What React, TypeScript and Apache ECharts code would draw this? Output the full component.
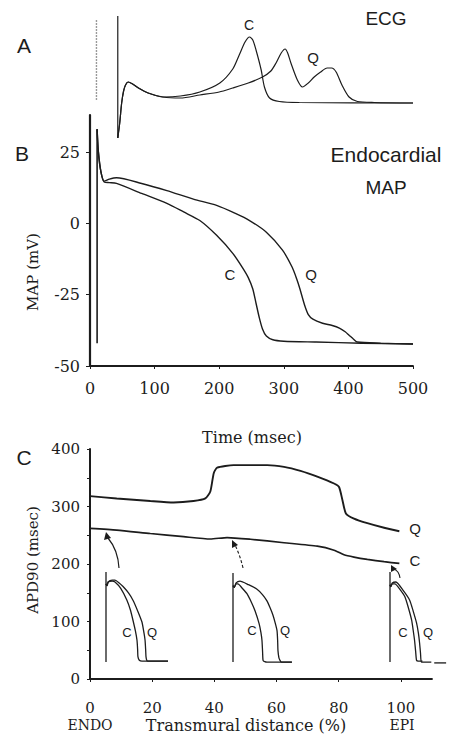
import React, { useEffect, useRef } from "react";
import * as echarts from "echarts";

// ---------- Panel A: ECG (time ms, amplitude arbitrary units) ----------
const ecgStimulus = [[10, 3], [10, 83]];
const ecgQrs = [[43, 87], [43, -35]];
const ecgControl = [
  [43, -35], [46, -20], [49, 0], [52, 12], [55, 18], [59, 21], [66, 19], [75, 15],
  [90, 10], [113, 6], [140, 7], [170, 11], [201, 20], [221, 34], [231, 48], [240, 61], [247, 66],
  [252, 63], [257, 53], [265, 33], [270, 16], [278, 5], [293, 1.5], [324, 0.5], [500, 0],
];
const ecgQuinidine = [
  [43, -35], [46, -20], [49, 0], [52, 12], [55, 18], [59, 21], [66, 19], [75, 15],
  [90, 10], [113, 6], [140, 5], [170, 8], [200, 11], [221, 15], [245, 20], [267, 26], [280, 32],
  [288, 40], [296, 50], [302, 54], [306, 50], [311, 40], [321, 23], [329, 16], [338, 20], [347, 26],
  [357, 31], [367, 35], [374, 35], [381, 31], [390, 18], [401, 6], [414, 1.5], [440, 0.5], [500, 0],
];

// ---------- Panel B: Endocardial MAP (time ms, mV) ----------
const timeTicks = [0, 100, 200, 300, 400, 500];
const mapTicks = [-50, -25, 0, 25];
const mapUpstroke = [[11, -42], [11, 33]];
const mapControl = [
  [11, 33], [13, 25], [17, 18], [22, 14.5], [30, 14.3], [41, 14], [80, 10.5], [119, 7],
  [145, 4], [170, 1], [196, -4.2], [221, -10.5], [236, -15.5], [245, -19], [252, -23], [257, -28],
  [262, -33], [267, -37], [273, -39.5], [283, -40.8], [300, -41.3], [350, -41.6], [420, -42],
  [500, -42.3],
];
const mapQuinidine = [
  [11, 33], [13, 25], [17, 18], [22, 14.8], [30, 15.5], [41, 16], [80, 14], [119, 11.5],
  [160, 8.5], [196, 6.3], [225, 3.5], [247, 1], [273, -3.1], [298, -9.4], [313, -15.4],
  [320, -19.5], [325, -23], [332, -28.5], [338, -32], [345, -33.6], [360, -35], [375, -35.8],
  [386, -36.7], [395, -38], [401, -39.2], [408, -40.6], [414, -41.6], [450, -42], [500, -42.3],
];

// ---------- Panel C: APD90 across wall (% distance, ms) ----------
const distTicks = [0, 20, 40, 60, 80, 100];
const apdTicks = [0, 100, 200, 300, 400];
const apdQuinidine = [
  [0, 318], [8.6, 314], [19.4, 309.5], [26.9, 307], [33.3, 309.5], [37.1, 314], [38.7, 326],
  [39.8, 358], [40.9, 367.5], [46.2, 372], [57, 372], [62.4, 369], [67.7, 362], [73.1, 352],
  [78.5, 340], [80.1, 334], [81.2, 311], [82.3, 288], [84.9, 279], [89.2, 271], [94.6, 263],
  [99.5, 257],
];
const apdControl = [
  [0, 262], [8.6, 259], [19.4, 253], [30.1, 247.5], [38.7, 243.5], [44.1, 246], [51.6, 243],
  [62.4, 237], [73.1, 231], [78.5, 224], [81.7, 216], [84.9, 212], [89.2, 208], [94.6, 204],
  [99.5, 201],
];

// ---------- Panel C insets: MAP shapes (ms, % amplitude) ----------
const insetUpstroke = [[0, 1], [0, 100]];
const endoControl = [
  [0, 87], [7, 85], [14, 89], [40, 90], [58, 89], [95, 82], [135, 69],
  [158, 58], [174, 47], [190, 35], [200, 25], [204, 15], [206, 7], [215, 3], [232, 2], [400, 2],
];
const endoQuinidine = [
  [0, 87], [7, 85], [14, 89], [40, 91], [58, 91], [85, 88], [110, 84],
  [145, 77], [174, 69], [205, 57], [232, 45], [245, 33], [252, 25], [256, 14], [258, 7],
  [263, 3], [271, 2], [400, 2],
];
const midControl = [
  [0, 86], [8, 84], [20, 88], [32, 88], [60, 83], [90, 77], [120, 67],
  [142, 58], [168, 44], [180, 34], [187, 25], [191, 12], [194, 3], [205, 1.5], [219, 1], [380, 1],
];
const midQuinidine = [
  [0, 86], [8, 84], [20, 89], [45, 91], [100, 87], [155, 82], [190, 76],
  [219, 69], [240, 61], [258, 53], [273, 44], [284, 36], [288, 25], [290, 14], [296, 6],
  [303, 3], [312, 1], [380, 1],
];
const epiControl = [
  [0, 86], [5, 84], [15, 87], [32, 87], [65, 81], [97, 73], [120, 61],
  [142, 47], [152, 36], [161, 25], [168, 13], [174, 3], [185, 2], [213, 2],
];
const epiQuinidine = [
  [0, 86], [5, 84], [15, 88], [39, 89], [85, 80], [129, 69], [152, 57],
  [174, 44], [186, 33], [194, 22], [200, 11], [206, 1], [230, 1], [271, 1], [280, null],
  [290, 0], [368, 0],
];

const INK = "#1c1c1c";
const SERIF = "DejaVu Serif";
const SANS = "Liberation Sans";

function txt(text: string, x: number, y: number, size: number, family = SANS, extra: any = {}) {
  return {
    type: "text",
    x,
    y,
    ...extra,
    style: {
      text,
      fill: INK,
      font: `${size}px "${family}"`,
      align: "center",
      verticalAlign: "middle",
    },
  };
}

function line(data: any[], xi: number, width: number, smooth = 0, extra: any = {}) {
  return {
    type: "line",
    xAxisIndex: xi,
    yAxisIndex: xi,
    data,
    symbol: "none",
    silent: true,
    smooth,
    lineStyle: { color: INK, width, ...extra },
  };
}

export default function App() {
  const ref = useRef<HTMLDivElement>(null);
  useEffect(() => {
    if (!ref.current) return;
    const chart = echarts.init(ref.current, undefined, { renderer: "svg" });
    const hidden = { show: false };
    const axisLine = { show: true, onZero: false, lineStyle: { color: INK, width: 1.8 } };
    const option: any = {
      animation: false,
      backgroundColor: "#ffffff",
      grid: [
        { left: 90, top: 8, width: 323, height: 135 },
        { left: 90, top: 115, width: 323, height: 251 },
        { left: 90, top: 449, width: 342, height: 230 },
        { left: 106, top: 572, width: 62, height: 91 },
        { left: 233, top: 573, width: 62, height: 90 },
        { left: 390, top: 572, width: 62, height: 91 },
      ],
      xAxis: [
        { gridIndex: 0, type: "value", min: 0, max: 500, ...hidden },
        {
          gridIndex: 1, type: "value", min: 0, max: 500, interval: 100,
          axisLine,
          axisTick: { show: true, length: 3, lineStyle: { color: INK }, customValues: timeTicks },
          axisLabel: { fontFamily: SERIF, fontSize: 16, color: INK, margin: 14, customValues: timeTicks },
          splitLine: { show: false },
        },
        {
          gridIndex: 2, type: "value", min: 0, max: 110, interval: 20,
          axisLine,
          axisTick: { show: true, length: 3, lineStyle: { color: INK }, customValues: distTicks },
          axisLabel: { fontFamily: SERIF, fontSize: 15, color: INK, margin: 21, customValues: distTicks },
          splitLine: { show: false },
        },
        { gridIndex: 3, type: "value", min: 0, max: 400, ...hidden },
        { gridIndex: 4, type: "value", min: 0, max: 400, ...hidden },
        { gridIndex: 5, type: "value", min: 0, max: 400, ...hidden },
      ],
      yAxis: [
        { gridIndex: 0, type: "value", min: -40, max: 95, ...hidden },
        {
          gridIndex: 1, type: "value", min: -50, max: 38, interval: 25,
          axisLine: { show: true, onZero: false, lineStyle: { color: INK, width: 2.2 } },
          axisTick: { show: true, length: 4, lineStyle: { color: INK }, customValues: mapTicks },
          axisLabel: { fontFamily: SERIF, fontSize: 16, color: INK, margin: 10, customValues: mapTicks },
          splitLine: { show: false },
        },
        {
          gridIndex: 2, type: "value", min: 0, max: 400, interval: 100,
          axisLine: { show: true, onZero: false, lineStyle: { color: INK, width: 2 } },
          axisTick: { show: true, length: 3, lineStyle: { color: INK } },
          minorTick: { show: true, splitNumber: 2, length: 3, lineStyle: { color: INK } },
          axisLabel: { fontFamily: SERIF, fontSize: 15, color: INK, margin: 10, customValues: apdTicks },
          splitLine: { show: false },
        },
        { gridIndex: 3, type: "value", min: 0, max: 100, ...hidden },
        { gridIndex: 4, type: "value", min: 0, max: 100, ...hidden },
        { gridIndex: 5, type: "value", min: 0, max: 100, ...hidden },
      ],
      series: [
        line(ecgStimulus, 0, 1.4, 0, { color: "#9a9a9a", type: [2, 1] }),
        line(ecgQrs, 0, 1.2),
        line(ecgControl, 0, 1.2, 0.25),
        line(ecgQuinidine, 0, 1.2, 0.25),
        line(mapUpstroke, 1, 1.6),
        line(mapControl, 1, 1.4, 0.25),
        line(mapQuinidine, 1, 1.4, 0.25),
        line(apdQuinidine, 2, 1.9, 0.2),
        line(apdControl, 2, 1.7, 0.2),
        line(insetUpstroke, 3, 1.3),
        line(endoControl, 3, 1.3, 0.2),
        line(endoQuinidine, 3, 1.3, 0.2),
        line(insetUpstroke, 4, 1.3),
        line(midControl, 4, 1.3, 0.2),
        line(midQuinidine, 4, 1.3, 0.2),
        line(insetUpstroke, 5, 1.3),
        line(epiControl, 5, 1.3, 0.2),
        line(epiQuinidine, 5, 1.3, 0.2),
      ],
      graphic: [
        // panel letters & titles
        txt("A", 24, 45, 21),
        txt("ECG", 386, 18, 19),
        txt("C", 249, 25, 14),
        txt("Q", 313, 57, 15),
        txt("B", 22, 153, 21),
        txt("Endocardial", 386, 154, 21),
        txt("MAP", 386, 187, 19),
        txt("C", 230, 274, 15),
        txt("Q", 311, 274, 15),
        txt("MAP (mV)", 33, 272, 15, SERIF, { rotation: Math.PI / 2 }),
        txt("Time (msec)", 252, 437, 16, SERIF),
        txt("C", 24, 457, 21),
        txt("APD90 (msec)", 33, 560, 15, SERIF, { rotation: Math.PI / 2 }),
        txt("Q", 415, 528, 15),
        txt("C", 415, 560, 15),
        txt("C", 127, 632, 13),
        txt("Q", 152, 632, 13),
        txt("C", 252, 630, 13),
        txt("Q", 285, 630, 13),
        txt("C", 403, 632, 13),
        txt("Q", 428, 632, 13),
        txt("ENDO", 90, 725, 14, SERIF),
        txt("Transmural distance (%)", 246, 725, 16, SERIF),
        txt("EPI", 402, 725, 14, SERIF),
        // arrows from insets to the control curve
        {
          type: "bezierCurve",
          shape: { x1: 119, y1: 568, x2: 108, y2: 538, cpx1: 118, cpy1: 550 },
          style: { stroke: INK, lineWidth: 1.2, fill: null },
        },
        { type: "polygon", shape: { points: [[106, 532], [104, 540], [111, 538]] }, style: { fill: INK } },
        {
          type: "bezierCurve",
          shape: { x1: 243, y1: 568, x2: 235, y2: 545, cpx1: 240, cpy1: 555 },
          style: { stroke: INK, lineWidth: 1.1, fill: null, lineDash: [3, 2] },
        },
        { type: "polygon", shape: { points: [[232, 540], [232, 548], [238, 545]] }, style: { fill: INK } },
        {
          type: "bezierCurve",
          shape: { x1: 400, y1: 578, x2: 394, y2: 569, cpx1: 399, cpy1: 571 },
          style: { stroke: INK, lineWidth: 1.1, fill: null },
        },
        { type: "polygon", shape: { points: [[391, 565], [391, 572], [397, 569]] }, style: { fill: INK } },
      ],
    };
    chart.setOption(option);
    return () => chart.dispose();
  }, []);
  return (
    <div
      ref={ref}
      style={{ position: "fixed", left: 0, top: 0, width: 451, height: 741, background: "#fff" }}
    />
  );
}
